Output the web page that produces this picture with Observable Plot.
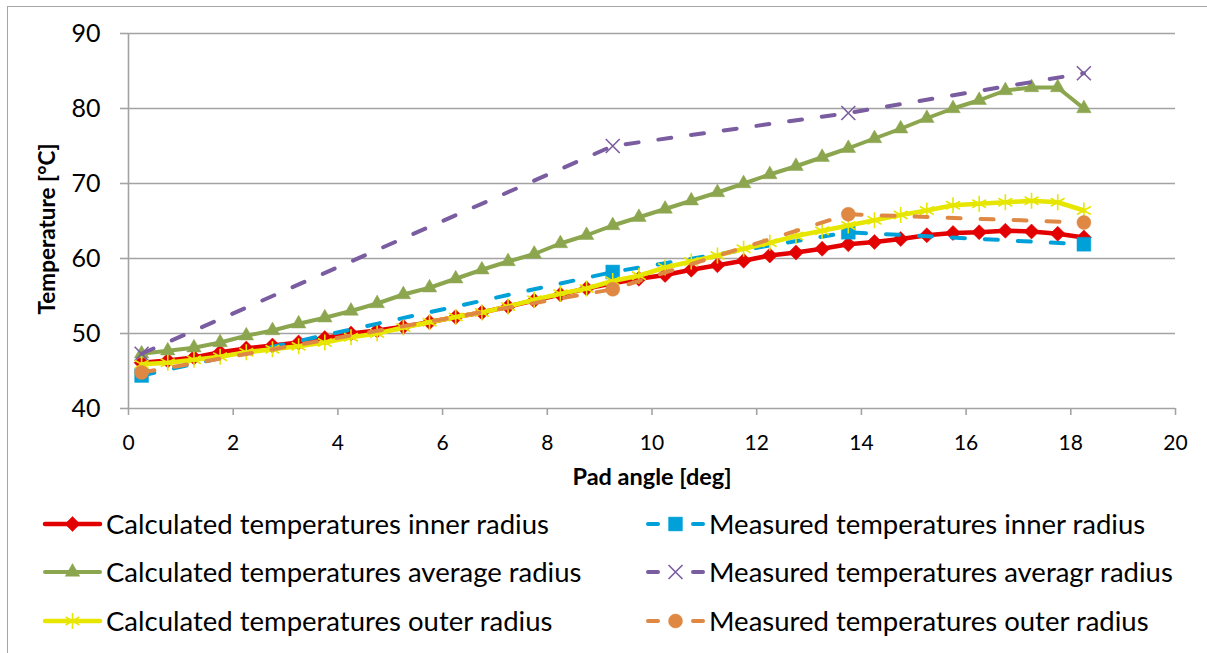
<!DOCTYPE html>
<html><head><meta charset="utf-8">
<script src="https://cdn.jsdelivr.net/npm/d3@7"></script>
<script src="https://cdn.jsdelivr.net/npm/@observablehq/plot@0.6"></script>
<style>
html,body{margin:0;padding:0;background:#fff;overflow:hidden;width:1207px;height:653px;}
#chart{position:absolute;left:0;top:0;}
#legend{position:absolute;left:0;top:500px;}
#frame{position:absolute;left:7px;top:6px;width:1300px;height:800px;border-left:1.5px solid #a6a6a6;border-top:1.5px solid #a6a6a6;pointer-events:none;}
</style></head><body>
<div id="chart"></div>
<div id="legend"></div>
<div id="frame"></div>
<script>
// ---------- data ----------
const calcAngle = [0.25, 0.75, 1.25, 1.75, 2.25, 2.75, 3.25, 3.75, 4.25, 4.75, 5.25, 5.75, 6.25, 6.75, 7.25, 7.75, 8.25, 8.75, 9.25, 9.75, 10.25, 10.75, 11.25, 11.75, 12.25, 12.75, 13.25, 13.75, 14.25, 14.75, 15.25, 15.75, 16.25, 16.75, 17.25, 17.75, 18.25];
const calcInner = [46.1, 46.4, 46.8, 47.5, 48.0, 48.4, 48.8, 49.4, 50.0, 50.4, 50.9, 51.5, 52.2, 52.8, 53.6, 54.4, 55.2, 56.0, 56.7, 57.3, 57.8, 58.5, 59.1, 59.7, 60.4, 60.8, 61.3, 61.9, 62.2, 62.6, 63.1, 63.4, 63.5, 63.7, 63.6, 63.3, 62.8];
const calcAverage = [47.3, 47.7, 48.1, 48.8, 49.7, 50.4, 51.3, 52.1, 53.0, 54.0, 55.2, 56.1, 57.3, 58.5, 59.6, 60.6, 62.0, 63.1, 64.4, 65.5, 66.6, 67.7, 68.8, 70.0, 71.2, 72.3, 73.5, 74.7, 76.0, 77.3, 78.7, 80.0, 81.1, 82.4, 82.8, 82.8, 80.0];
const calcOuter = [45.9, 46.1, 46.5, 46.9, 47.5, 47.9, 48.3, 48.8, 49.5, 50.0, 50.8, 51.5, 52.2, 52.8, 53.6, 54.5, 55.3, 56.0, 57.0, 57.7, 58.8, 59.6, 60.4, 61.3, 62.1, 63.0, 63.7, 64.4, 65.1, 65.8, 66.4, 67.1, 67.3, 67.5, 67.7, 67.5, 66.4];
const measAngle = [0.25, 9.25, 13.75, 18.25];
const measInner = [44.4, 58.2, 63.5, 61.9];
const measAverage = [47.3, 75.0, 79.4, 84.7];
const measOuter = [44.8, 55.9, 65.9, 64.8];
const seriesNames = [
  "Calculated temperatures inner radius",
  "Measured temperatures inner radius",
  "Calculated temperatures average radius",
  "Measured temperatures averagr radius",
  "Calculated temperatures outer radius",
  "Measured temperatures outer radius"
];
const xTicks = [0, 2, 4, 6, 8, 10, 12, 14, 16, 18, 20];
const yTicks = [40, 50, 60, 70, 80, 90];
const xTitle = "Pad angle [deg]";
const yTitle = "Temperature [°C]";

// ---------- styles ----------
const FONT = "Lato, 'Open Sans', sans-serif";
const GRID = "#a3a3a3";
const styles = [
  {color: "#E20000", dash: null, symbol: "diamond2", d3sym: d3.symbolDiamond2, r: 6.8, filled: true, width: 4.5},
  {color: "#00A0D8", dash: "13,20", symbol: "square", d3sym: d3.symbolSquare, r: 7.8, filled: true, width: 4},
  {color: "#8CA64F", dash: null, symbol: "triangle", d3sym: d3.symbolTriangle, r: 5.4, filled: true, width: 4},
  {color: "#7A5CA0", dash: "13,20", symbol: "times", d3sym: d3.symbolTimes, r: 6.4, filled: false, width: 4},
  {color: "#E6E600", dash: null, symbol: "asterisk", d3sym: d3.symbolAsterisk, r: 7.6, filled: false, width: 4.5},
  {color: "#DE8843", dash: "13,20", symbol: "circle", d3sym: d3.symbolCircle, r: 7, filled: true, width: 4}
];
const seriesX = [calcAngle, measAngle, calcAngle, measAngle, calcAngle, measAngle];
const seriesY = [calcInner, measInner, calcAverage, measAverage, calcOuter, measOuter];

const tables = seriesNames.map((name, i) => seriesX[i].map((x, j) => ({series: name, x, y: seriesY[i][j]})));

const marks = [
  Plot.gridY(yTicks, {stroke: GRID, strokeOpacity: 1, strokeWidth: 1.6}),
  Plot.ruleX([0], {stroke: GRID, strokeWidth: 1.6}),
  Plot.axisY(yTicks, {tickSize: 8, tickPadding: 20, fontSize: 25, stroke: GRID, strokeWidth: 1.6, label: null, fill: "#000"}),
  Plot.axisX(xTicks, {tickSize: 7, tickPadding: 20, fontSize: 21, stroke: GRID, strokeWidth: 1.6, label: null, fill: "#000"}),
  Plot.text([yTitle], {frameAnchor: "left", dx: -81, dy: 8, rotate: -90, textAnchor: "middle", fontSize: 22.5, fontWeight: "bold", fill: "#000"}),
  Plot.text([xTitle], {frameAnchor: "bottom", dy: 76, textAnchor: "middle", fontSize: 23.5, fontWeight: "bold", fill: "#000"})
];
tables.forEach((t, i) => {
  const s = styles[i];
  marks.push(Plot.line(t, {x: "x", y: "y", stroke: s.color, strokeWidth: s.width, strokeDasharray: s.dash || undefined, strokeLinecap: "round", strokeLinejoin: "round"}));
  marks.push(Plot.dot(t, {x: "x", y: "y", symbol: s.symbol, r: s.r, fill: s.filled ? s.color : "none", stroke: s.color, strokeWidth: s.filled ? 0.5 : 1.6}));
});

const chart = Plot.plot({
  width: 1207, height: 500,
  marginLeft: 128, marginRight: 32, marginTop: 33, marginBottom: 92,
  x: {domain: [0, 20]},
  y: {domain: [40, 90]},
  style: {fontFamily: FONT, background: "transparent", color: "#000", overflow: "visible"},
  marks
});
document.getElementById("chart").appendChild(chart);

// ---------- legend ----------
const leg = d3.create("svg").attr("width", 1207).attr("height", 153).style("font-family", FONT);
const cols = [45, 648];
const rows = [24, 72, 121];
seriesNames.forEach((name, i) => {
  const s = styles[i];
  const x0 = cols[i % 2], y0 = rows[Math.floor(i / 2)];
  const g = leg.append("g").attr("transform", `translate(${x0},${y0})`);
  g.append("line").attr("x1", 0).attr("x2", 55).attr("y1", 0).attr("y2", 0)
    .attr("stroke", s.color).attr("stroke-width", s.width)
    .attr("stroke-dasharray", s.dash ? "10,35" : null).attr("stroke-linecap", "round");
  g.append("path").attr("transform", "translate(27.5,0)")
    .attr("d", d3.symbol(s.d3sym, Math.PI * s.r * s.r)())
    .attr("fill", s.filled ? s.color : "none").attr("stroke", s.color).attr("stroke-width", s.filled ? 0.5 : 1.6);
  g.append("text").attr("x", 61).attr("y", 0).attr("dy", "0.35em")
    .attr("font-size", 27.5).attr("fill", "#000").text(name);
});
document.getElementById("legend").appendChild(leg.node());
</script>
</body></html>
